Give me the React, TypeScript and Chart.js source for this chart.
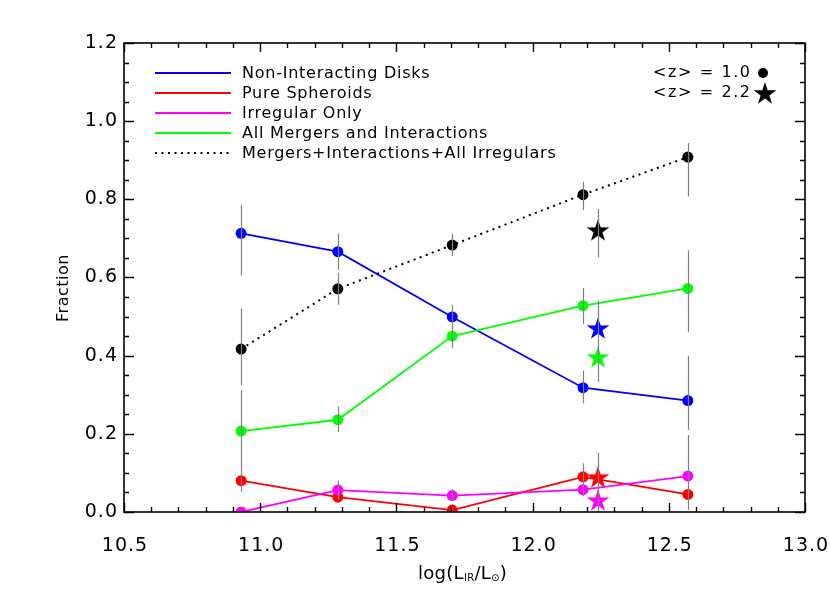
import { useEffect, useRef } from 'react';
import { Chart, registerables } from 'chart.js';

Chart.register(...registerables);

// ---------- data ----------
const LOG_LIR = [10.93, 11.285, 11.705, 12.185, 12.57];

const SERIES_NAMES = [
  'Non-Interacting Disks',
  'Pure Spheroids',
  'Irregular Only',
  'All Mergers and Interactions',
  'Mergers+Interactions+All Irregulars',
];
const SERIES_COLORS = ['#0000ff', '#ff0000', '#ff00ff', '#00ff00', '#000000'];

const DISKS = [0.713, 0.666, 0.499, 0.318, 0.285];
const DISKS_LO = [0.606, 0.62, 0.47, 0.278, 0.21];
const DISKS_HI = [0.786, 0.712, 0.53, 0.362, 0.4];

const SPHEROIDS = [0.08, 0.038, 0.005, 0.09, 0.045];
const SPHEROIDS_LO = [0.052, 0.03, 0.0, 0.051, 0.005];
const SPHEROIDS_HI = [0.14, 0.048, 0.012, 0.125, 0.1];

const IRREGULAR = [0.0, 0.056, 0.042, 0.057, 0.092];
const IRREGULAR_LO = [0.0, 0.035, 0.028, 0.04, 0.04];
const IRREGULAR_HI = [0.0, 0.08, 0.058, 0.075, 0.197];

const MERGERS = [0.207, 0.236, 0.45, 0.528, 0.572];
const MERGERS_LO = [0.1, 0.205, 0.42, 0.481, 0.461];
const MERGERS_HI = [0.312, 0.27, 0.48, 0.573, 0.67];

const ALL_IRR = [0.417, 0.571, 0.683, 0.812, 0.908];
const ALL_IRR_LO = [0.325, 0.53, 0.655, 0.773, 0.807];
const ALL_IRR_HI = [0.521, 0.612, 0.712, 0.845, 0.944];

// <z> = 2.2 points (one per series, same order)
const Z2_LOG_LIR = 12.24;
const Z2_VALUES = [0.471, 0.09, 0.031, 0.397, 0.722];
const Z2_LO = [0.42, 0.035, 0.0, 0.333, 0.652];
const Z2_HI = [0.542, 0.151, 0.06, 0.46, 0.775];

const X_TICK_LABELS = ['10.5', '11.0', '11.5', '12.0', '12.5', '13.0'];
const Y_TICK_LABELS = ['0.0', '0.2', '0.4', '0.6', '0.8', '1.0', '1.2'];

const Z_LEGEND = ['<z> = 1.0', '<z> = 2.2'];

// ---------- helpers ----------
const FONT = "'DejaVu Sans', sans-serif";

function starPath(ctx: CanvasRenderingContext2D, cx: number, cy: number, r: number) {
  const inner = r * 0.382;
  ctx.beginPath();
  for (let i = 0; i < 10; i++) {
    const rad = i % 2 === 0 ? r : inner;
    const ang = -Math.PI / 2 + (i * Math.PI) / 5;
    const px = cx + rad * Math.cos(ang);
    const py = cy + rad * Math.sin(ang);
    if (i === 0) ctx.moveTo(px, py);
    else ctx.lineTo(px, py);
  }
  ctx.closePath();
}

function makeStarImage(color: string, r: number) {
  const c = document.createElement('canvas');
  const s = Math.ceil(r * 2 + 2);
  c.width = s;
  c.height = s;
  const g = c.getContext('2d')!;
  g.fillStyle = color;
  starPath(g, s / 2, s / 2 + r * 0.095, r);
  g.fill();
  return c;
}

const SERIES = [
  { v: DISKS, lo: DISKS_LO, hi: DISKS_HI },
  { v: SPHEROIDS, lo: SPHEROIDS_LO, hi: SPHEROIDS_HI },
  { v: IRREGULAR, lo: IRREGULAR_LO, hi: IRREGULAR_HI },
  { v: MERGERS, lo: MERGERS_LO, hi: MERGERS_HI },
  { v: ALL_IRR, lo: ALL_IRR_LO, hi: ALL_IRR_HI },
];

const idlPlugin = {
  id: 'idlStyle',
  afterDatasetsDraw(chart: any) {
    const { ctx, chartArea: a } = chart;
    const xs = chart.scales.x;
    const ys = chart.scales.y;
    ctx.save();
    ctx.beginPath();
    ctx.rect(a.left, a.top, a.right - a.left, a.bottom - a.top);
    ctx.clip();
    ctx.strokeStyle = '#808080';
    ctx.lineWidth = 1.2;
    ctx.beginPath();
    SERIES.forEach((s) => {
      LOG_LIR.forEach((lx, i) => {
        if (s.hi[i] <= s.lo[i]) return;
        const px = Math.round(xs.getPixelForValue(lx)) + 0.5;
        ctx.moveTo(px, ys.getPixelForValue(s.lo[i]));
        ctx.lineTo(px, ys.getPixelForValue(s.hi[i]));
      });
    });
    Z2_VALUES.forEach((_, i) => {
      const px = Math.round(xs.getPixelForValue(Z2_LOG_LIR)) + 0.5;
      ctx.moveTo(px, ys.getPixelForValue(Z2_LO[i]));
      ctx.lineTo(px, ys.getPixelForValue(Z2_HI[i]));
    });
    ctx.stroke();
    ctx.restore();
  },
  afterDraw(chart: any) {
    const { ctx, chartArea: a } = chart;
    const xs = chart.scales.x;
    const ys = chart.scales.y;
    ctx.save();
    ctx.strokeStyle = '#000';
    ctx.fillStyle = '#000';
    ctx.lineWidth = 1.6;
    // box
    ctx.strokeRect(a.left, a.top, a.right - a.left, a.bottom - a.top);

    // ticks
    ctx.lineWidth = 1.4;
    ctx.beginPath();
    const xMin = xs.min, xMax = xs.max;
    for (let k = 0; k <= Math.round((xMax - xMin) / 0.1); k++) {
      const v = xMin + k * 0.1;
      const major = k % 5 === 0;
      const len = major ? 9 : 5;
      const px = Math.round(xs.getPixelForValue(v)) + 0.5;
      ctx.moveTo(px, a.bottom);
      ctx.lineTo(px, a.bottom - len);
      ctx.moveTo(px, a.top);
      ctx.lineTo(px, a.top + len);
    }
    const yMin = ys.min, yMax = ys.max;
    for (let k = 0; k <= Math.round((yMax - yMin) / 0.05); k++) {
      const v = yMin + k * 0.05;
      const major = k % 4 === 0;
      const len = major ? 10 : 5;
      const py = Math.round(ys.getPixelForValue(v)) + 0.5;
      ctx.moveTo(a.left, py);
      ctx.lineTo(a.left + len, py);
      ctx.moveTo(a.right, py);
      ctx.lineTo(a.right - len, py);
    }
    ctx.stroke();

    // tick labels
    (ctx as any).letterSpacing = '1px';
    ctx.font = `19px ${FONT}`;
    ctx.textBaseline = 'middle';
    ctx.textAlign = 'right';
    Y_TICK_LABELS.forEach((t) => {
      ctx.fillText(t, a.left - 6, ys.getPixelForValue(parseFloat(t)));
    });
    ctx.textAlign = 'center';
    ctx.textBaseline = 'alphabetic';
    X_TICK_LABELS.forEach((t) => {
      ctx.fillText(t, xs.getPixelForValue(parseFloat(t)) + 1, 551);
    });

    // x title: log(L_IR/L_sun)
    (ctx as any).letterSpacing = '0.3px';
    const big = `18px ${FONT}`;
    const small = `10px ${FONT}`;
    const parts = [
      { t: 'log(L', f: big, dy: 0 },
      { t: 'IR', f: small, dy: 2 },
      { t: '/L', f: big, dy: 0 },
      { t: '\u2299', f: small, dy: 2 },
      { t: ')', f: big, dy: 0 },
    ];
    let total = 0;
    parts.forEach((p) => {
      ctx.font = p.f;
      total += ctx.measureText(p.t).width;
    });
    let cx = (a.left + a.right) / 2 - total / 2 - 2;
    ctx.textAlign = 'left';
    parts.forEach((p) => {
      ctx.font = p.f;
      ctx.fillText(p.t, cx, 579 + p.dy);
      cx += ctx.measureText(p.t).width;
    });

    // y title
    ctx.save();
    ctx.translate(64, 288);
    ctx.rotate(-Math.PI / 2);
    (ctx as any).letterSpacing = '0.5px';
    ctx.font = `16px ${FONT}`;
    ctx.textAlign = 'center';
    ctx.textBaseline = 'middle';
    ctx.fillText('Fraction', 0, 0);
    ctx.restore();

    // series legend
    (ctx as any).letterSpacing = '0.75px';
    ctx.font = `16px ${FONT}`;
    ctx.textAlign = 'left';
    ctx.textBaseline = 'middle';
    SERIES_NAMES.forEach((name, i) => {
      const yy = 73 + i * 20;
      ctx.save();
      ctx.strokeStyle = SERIES_COLORS[i];
      ctx.lineWidth = i === 4 ? 2 : 1.8;
      if (i === 4) ctx.setLineDash([2, 4.5]);
      ctx.beginPath();
      ctx.moveTo(155, yy);
      ctx.lineTo(231, yy);
      ctx.stroke();
      ctx.restore();
      ctx.fillText(name, 242, yy + 1);
    });

    // redshift legend
    (ctx as any).letterSpacing = '1.6px';
    ctx.fillText(Z_LEGEND[0], 653, 73);
    ctx.fillText(Z_LEGEND[1], 653, 93);
    ctx.beginPath();
    ctx.arc(763, 73, 5, 0, Math.PI * 2);
    ctx.fill();
    starPath(ctx, 765, 94, 12);
    ctx.fill();
    (ctx as any).letterSpacing = '0px';
    ctx.restore();
  },
};

export default function App() {
  const ref = useRef<HTMLCanvasElement | null>(null);
  useEffect(() => {
    if (!ref.current) return;
    const lineSets = SERIES.map((s, i) => ({
      label: SERIES_NAMES[i],
      data: LOG_LIR.map((x, j) => ({ x, y: s.v[j] })),
      showLine: true,
      borderColor: SERIES_COLORS[i],
      backgroundColor: SERIES_COLORS[i],
      borderWidth: i === 4 ? 2 : 1.8,
      borderDash: i === 4 ? [2, 4.5] : [],
      pointRadius: 5.5,
      pointBorderWidth: 0,
      pointBackgroundColor: SERIES_COLORS[i],
      pointHoverRadius: 5.5,
      order: 10 - i,
    }));
    const starSets = Z2_VALUES.map((v, i) => ({
      label: SERIES_NAMES[i] + ' <z>=2.2',
      data: [{ x: Z2_LOG_LIR, y: v }],
      showLine: false,
      pointStyle: makeStarImage(SERIES_COLORS[i], 12) as any,
      pointRadius: 12,
      borderWidth: 0,
      backgroundColor: SERIES_COLORS[i],
      order: 0,
    }));
    const chart = new Chart(ref.current, {
      type: 'scatter',
      data: { datasets: [...lineSets, ...starSets] as any },
      options: {
        animation: false,
        responsive: false,
        devicePixelRatio: 1,
        layout: { padding: { left: 124, top: 43, right: 25, bottom: 81 } },
        plugins: { legend: { display: false }, tooltip: { enabled: false } },
        scales: {
          x: { type: 'linear', min: 10.5, max: 13.0, display: false },
          y: { type: 'linear', min: 0, max: 1.2, display: false },
        },
      },
      plugins: [idlPlugin],
    });
    return () => chart.destroy();
  }, []);
  return (
    <div style={{ position: 'absolute', left: 0, top: 0, width: 830, height: 593, background: '#fff' }}>
      <canvas ref={ref} width={830} height={593} style={{ display: 'block' }} />
    </div>
  );
}
